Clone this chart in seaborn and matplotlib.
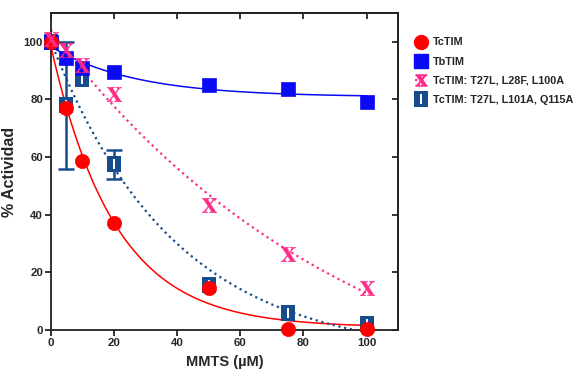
import numpy as np
import pandas as pd
import matplotlib
matplotlib.use("Agg")
import matplotlib.pyplot as plt
from matplotlib.path import Path
from matplotlib.lines import Line2D
import seaborn as sns

# MMTS concentrations (uM)
mmts = [0, 5, 10, 20, 50, 75, 100]

# % residual activity for each enzyme
tctim = [100, 77, 58.5, 37, 14.5, 0.5, 0.5]
tbtim = [100, 94.5, 91, 89.5, 85, 83.5, 79]
tc_l28f = [101, 97, 92, 82, 43.5, 26.5, 14.5]
tc_q115a = [100, 78, 87, 57.5, 15.5, 6, 2]
tc_q115a_err = [0, 22, 0, 5, 0, 0, 0]

labels = ["TcTIM", "TbTIM", "TcTIM: T27L, L28F, L100A", "TcTIM: T27L, L101A, Q115A"]
colors = ["#FF0000", "#0A0AF5", "#FF2A8A", "#174C8C"]

sns.set_style("ticks")
plt.rcParams["font.family"] = ["Liberation Sans", "DejaVu Sans"]
plt.rcParams["font.weight"] = "bold"
plt.rcParams["mathtext.fontset"] = "stix"


def one_phase_decay(x, y):
    """Least-squares fit of y = plateau + span * exp(-k x)."""
    x = np.asarray(x, float)
    y = np.asarray(y, float)
    best = None
    for k in np.linspace(0.001, 0.3, 3000):
        A = np.column_stack([np.ones_like(x), np.exp(-k * x)])
        coef, *_ = np.linalg.lstsq(A, y, rcond=None)
        sse = np.sum((A @ coef - y) ** 2)
        if best is None or sse < best[0]:
            best = (sse, k, coef)
    _, k, (p, s) = best
    return lambda t: p + s * np.exp(-k * t)


def rect_path(w, h):
    pts = [(-w, -h), (w, -h), (w, h), (-w, h), (-w, -h)]
    return Path(pts, [Path.MOVETO] + [Path.LINETO] * 3 + [Path.CLOSEPOLY])


# dark square body plus a white vertical slot drawn on top of it
body_marker = rect_path(0.43, 0.5)
slot_marker = rect_path(0.11, 0.5)
slot_scale = 0.6  # slot height relative to body height
x_marker = r"$\mathrm{X}$"

fig = plt.figure(figsize=(5.82, 3.69), dpi=100)
ax = fig.add_axes([0.0871, 0.1057, 0.5969, 0.8591])

xs = np.linspace(0, 100, 400)
series = [tctim, tbtim, tc_l28f, tc_q115a]
styles = ["-", "-", ":", ":"]
widths = [1.1, 1.1, 1.6, 1.6]
for ys, c, ls, lw in zip(series, colors, styles, widths):
    f = one_phase_decay(mmts, ys)
    sns.lineplot(x=xs, y=f(xs), ax=ax, color=c, linestyle=ls, linewidth=lw, zorder=2)

df = pd.DataFrame({"x": mmts, "y": tc_q115a, "e": tc_q115a_err})
has_err = df[df["e"] > 0]
ax.errorbar(has_err["x"], has_err["y"], yerr=has_err["e"], fmt="none",
            ecolor=colors[3], elinewidth=1.8, capsize=5.5, capthick=1.8,
            zorder=3, clip_on=False)

body_s = 130
sns.scatterplot(x=mmts, y=tc_q115a, ax=ax, marker=body_marker, s=body_s,
                color=colors[3], linewidth=0, zorder=4, clip_on=False)
sns.scatterplot(x=mmts, y=tc_q115a, ax=ax, marker=slot_marker,
                s=body_s * slot_scale ** 2, color="white", linewidth=0,
                zorder=4.1, clip_on=False)
sns.scatterplot(x=mmts, y=tbtim, ax=ax, marker="s", s=100,
                color=colors[1], edgecolor=colors[1], linewidth=0.5,
                zorder=5, clip_on=False)
sns.scatterplot(x=mmts, y=tctim, ax=ax, marker="o", s=105,
                color=colors[0], edgecolor=colors[0], linewidth=0.5,
                zorder=6, clip_on=False)
sns.scatterplot(x=mmts, y=tc_l28f, ax=ax, marker=x_marker, s=110,
                color=colors[2], edgecolor=colors[2], linewidth=0.3,
                zorder=7, clip_on=False)

ax.set_xlim(0, 110)
ax.set_ylim(0, 110)
ticks = [0, 20, 40, 60, 80, 100]
ax.set_xticks(ticks)
ax.set_yticks(ticks)
ax.tick_params(axis="both", which="major", direction="out", length=4,
               width=1.3, labelsize=8.2, pad=1.5, color="#222222")
for lab in ax.get_xticklabels() + ax.get_yticklabels():
    lab.set_fontweight("bold")

# inward ticks on top and right edges
ax_top = ax.secondary_xaxis("top")
ax_top.set_xticks(ticks)
ax_top.tick_params(direction="in", length=4, width=1.3, labeltop=False)
ax_right = ax.secondary_yaxis("right")
ax_right.set_yticks(ticks)
ax_right.tick_params(direction="in", length=4, width=1.3, labelright=False)
for sp in list(ax.spines.values()) + [ax_top.spines["top"], ax_right.spines["right"]]:
    sp.set_linewidth(1.3)
    sp.set_color("#222222")
for sp in ["top", "right"]:
    ax.spines[sp].set_visible(True)

ax.set_xlabel("MMTS (\u00b5M)", fontsize=10.5, fontweight="bold", labelpad=5)
ax.set_ylabel("% Actividad", fontsize=11.5, fontweight="bold", labelpad=5)

handles = [
    Line2D([], [], color=colors[0], linestyle="-", lw=1.1, marker="o", ms=10),
    Line2D([], [], color=colors[1], linestyle="-", lw=1.1, marker="s", ms=9.5),
    Line2D([], [], color=colors[2], linestyle=":", lw=1.6, marker=x_marker, ms=8),
    (Line2D([], [], color=colors[3], linestyle=":", lw=1.6, marker=body_marker,
            ms=11.5, markeredgewidth=0),
     Line2D([], [], linestyle="none", marker=slot_marker, ms=11.5 * slot_scale,
            markerfacecolor="white", markeredgewidth=0)),
]
leg = fig.legend(handles, labels, loc="upper left", bbox_to_anchor=(0.697, 0.925),
                 frameon=False, handlelength=1.1, handletextpad=0.55,
                 labelspacing=0.85, prop={"size": 7.8, "weight": "bold"})

fig.savefig("out.png", dpi=100)
